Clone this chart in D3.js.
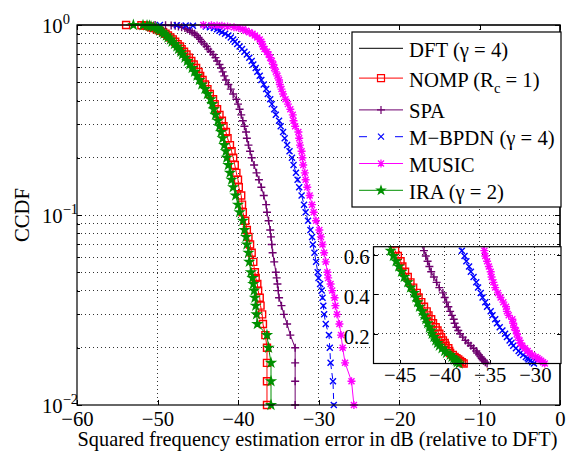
<!DOCTYPE html>
<html>
<head>
<meta charset="utf-8">
<script src="https://cdn.jsdelivr.net/npm/d3@7"></script>
<style>
  body { margin: 0; background: #fff; }
  svg { display: block; }
  svg text { font-family: "Liberation Serif", "Tinos", "Times New Roman", "DejaVu Serif", serif; }
</style>
</head>
<body>
<svg id="chart" width="567" height="453"></svg>
<script>
// Monte Carlo trials; each CCDF point is (error, count/trials)
const trials = 300
const counts = [300, 299, 298, 297, 295, 292, 289, 285, 280, 275, 270, 264, 258, 252, 245, 238, 231, 224, 217, 210,
  202, 194, 186, 178, 170, 162, 154, 146, 138, 130, 122, 115, 108, 101, 94, 88, 82, 76, 70, 65,
  60, 55, 50, 46, 42, 38, 34, 31, 28, 25, 23, 21, 19, 17, 15, 14, 13, 12, 11, 10,
  9, 8, 7, 6, 5, 4, 3]

// squared frequency error in dB (relative to DFT), one value per count level
const nompErr = [-53.9, -52.0, -51.6, -51.3, -51.0, -50.8, -50.5, -50.1, -49.7, -49.3, -49.0, -48.7, -48.4, -48.1, -47.8, -47.5, -47.2, -47.0, -46.7, -46.4,
  -46.1, -45.8, -45.5, -45.2, -44.9, -44.7, -44.4, -44.1, -43.8, -43.5, -43.1, -42.9, -42.6, -42.3, -42.0, -41.8, -41.5, -41.3, -41.0, -40.8,
  -40.6, -40.4, -40.2, -40.0, -39.9, -39.6, -39.5, -39.4, -39.1, -38.9, -38.7, -38.5, -38.3, -38.1, -37.9, -37.8, -37.6, -37.5, -37.3, -37.2,
  -37.0, -36.9, -36.6, -36.4, -36.4, -36.4, -36.4]
const spaErr = [-50.3, -49.0, -48.3, -47.8, -47.4, -47.0, -46.6, -46.3, -46.0, -45.7, -45.4, -45.1, -44.9, -44.7, -44.5, -44.2, -43.9, -43.7, -43.4, -43.1,
  -42.8, -42.6, -42.3, -42.1, -41.9, -41.7, -41.5, -41.2, -40.9, -40.6, -40.2, -40.0, -39.8, -39.6, -39.4, -39.2, -39.0, -38.9, -38.7, -38.5,
  -38.3, -38.0, -37.7, -37.4, -37.1, -36.8, -36.5, -36.4, -36.2, -36.0, -35.9, -35.8, -35.7, -35.5, -35.3, -35.2, -35.1, -35.0, -34.9, -34.6,
  -34.3, -33.9, -33.5, -32.9, -32.9, -32.9, -32.9]
const bpdnErr = [-49.7, -47.6, -46.5, -45.6, -44.0, -43.5, -43.0, -42.6, -42.3, -42.0, -41.6, -41.2, -40.9, -40.6, -40.4, -40.1, -39.8, -39.5, -39.2, -38.9,
  -38.6, -38.3, -38.1, -37.8, -37.6, -37.3, -37.1, -36.8, -36.5, -36.3, -36.0, -35.8, -35.5, -35.3, -34.9, -34.7, -34.4, -34.2, -33.9, -33.6,
  -33.3, -33.1, -32.8, -32.6, -32.4, -32.1, -31.8, -31.6, -31.3, -31.0, -30.8, -30.7, -30.5, -30.3, -30.1, -30.0, -29.8, -29.6, -29.5, -29.4,
  -29.3, -29.1, -28.7, -28.6, -28.5, -28.2, -28.1]
const musicErr = [-44.3, -43.3, -42.6, -42.0, -41.3, -40.5, -39.9, -39.4, -39.0, -38.6, -38.2, -37.9, -37.6, -37.3, -37.1, -37.0, -36.9, -36.7, -36.4, -36.2,
  -36.0, -35.8, -35.6, -35.5, -35.3, -35.1, -34.9, -34.8, -34.6, -34.4, -34.1, -33.8, -33.5, -33.2, -33.1, -32.9, -32.5, -32.4, -32.3, -32.1,
  -32.0, -31.9, -31.7, -31.6, -31.4, -31.1, -30.8, -30.6, -30.3, -29.9, -29.7, -29.5, -29.3, -29.1, -28.9, -28.8, -28.5, -28.3, -28.0, -27.9,
  -27.7, -27.4, -27.2, -27.0, -26.7, -25.9, -25.6]
const iraErr = [-53.0, -51.8, -51.3, -51.0, -50.8, -50.5, -50.1, -49.9, -49.7, -49.4, -49.2, -48.9, -48.7, -48.4, -48.2, -47.9, -47.6, -47.4, -47.1, -46.9,
  -46.6, -46.3, -46.0, -45.7, -45.4, -45.1, -44.8, -44.5, -44.1, -43.8, -43.4, -43.2, -43.0, -42.8, -42.5, -42.3, -42.1, -41.9, -41.7, -41.5,
  -41.4, -41.2, -41.0, -40.8, -40.6, -40.3, -40.0, -39.8, -39.4, -39.2, -39.0, -38.9, -38.7, -38.6, -38.4, -38.2, -38.1, -38.0, -37.9, -37.8,
  -37.7, -37.6, -36.4, -36.2, -35.9, -35.9, -35.9]
// DFT is the reference, so its error is 0 dB in every trial
const dftErr = [-60, 0, 0]
const dftCcdf = [1, 1, 0.01]

const xTicks = [-60, -50, -40, -30, -20, -10, 0]
const yDecades = [0.01, 0.1, 1]
const insetXTicks = [-45, -40, -35, -30]
const insetYTicks = [0.2, 0.4, 0.6]
const legendLabels = ["DFT (γ = 4)", "NOMP (R", "SPA", "M\u2212BPDN (γ = 4)", "MUSIC", "IRA (γ = 2)"]

const fmtMinus = (d) => String(d).replace("-", "\u2212")
const SERIF = "'Liberation Serif', Tinos, 'Times New Roman', 'DejaVu Serif', serif"

const markerPath = {
  none: null,
  square: "M-3.5,-3.5h7v7h-7z",
  plus: "M-4,0H4M0,-4V4",
  cross: "M-3,-3L3,3M-3,3L3,-3",
  asterisk: "M-4,0H4M0,-4V4M-3,-3L3,3M-3,3L3,-3",
  star: d3.symbol(d3.symbolStar, 20)(),
}

const series = [
  {key: "nomp", values: nompErr, color: "#ff0000", marker: "square", dash: null},
  {key: "spa", values: spaErr, color: "#6e006e", marker: "plus", dash: null},
  {key: "bpdn", values: bpdnErr, color: "#0000ff", marker: "cross", dash: "6,4"},
  {key: "music", values: musicErr, color: "#ff00ff", marker: "asterisk", dash: null},
  {key: "ira", values: iraErr, color: "#009000", marker: "star", dash: null},
]
series.forEach((s) => {
  s.points = counts.map((k, i) => ({e: s.values[i], p: k / trials}))
})
const dftPoints = dftErr.map((e, i) => ({e, p: dftCcdf[i]}))

const svg = d3.select("#chart").attr("font-family", SERIF)
const FONT = 20.7

// main axes
const L = 77, R = 560, T = 25, B = 405
const x = d3.scaleLinear().domain([-60, 0]).range([L, R])
const y = d3.scaleLog().domain([0.01, 1]).range([B, T])

const yMinor = []
for (const dec of [0.01, 0.1]) for (let k = 2; k <= 9; k++) yMinor.push(dec * k)

const grid = svg.append("g")
  .attr("stroke", "#333").attr("stroke-width", 1).attr("stroke-dasharray", "1,3")
  .attr("shape-rendering", "crispEdges")
grid.selectAll("line.gx").data(xTicks.slice(1, -1)).join("line")
  .attr("x1", (d) => x(d)).attr("x2", (d) => x(d)).attr("y1", T).attr("y2", B)
grid.selectAll("line.gy").data(yMinor.concat([0.1])).join("line")
  .attr("x1", L).attr("x2", R).attr("y1", (d) => y(d)).attr("y2", (d) => y(d))

const styleAxis = (g) => {
  g.select(".domain").remove()
  g.attr("font-size", FONT).attr("font-family", SERIF)
  g.selectAll("line").attr("stroke-width", 1).attr("shape-rendering", "crispEdges")
}

svg.append("g").attr("transform", `translate(0,${B})`)
  .call(d3.axisBottom(x).tickValues(xTicks).tickSize(-5).tickPadding(6.5).tickFormat(fmtMinus))
  .call(styleAxis)
svg.append("g").attr("transform", `translate(0,${T})`)
  .call(d3.axisTop(x).tickValues(xTicks).tickSize(-5).tickFormat(""))
  .call(styleAxis)
for (const [axis, tx] of [[d3.axisLeft, L], [d3.axisRight, R]]) {
  svg.append("g").attr("transform", `translate(${tx},0)`)
    .call(axis(y).tickValues(yDecades).tickSize(-5).tickFormat(""))
    .call(styleAxis)
  svg.append("g").attr("transform", `translate(${tx},0)`)
    .call(axis(y).tickValues(yMinor).tickSize(-3).tickFormat(""))
    .call(styleAxis)
}

// 10^k labels
const yLab = svg.append("g").attr("font-size", FONT)
yDecades.forEach((d) => {
  const t = yLab.append("text").attr("x", 42).attr("y", y(d) + 7.5)
  t.append("tspan").text("10")
  t.append("tspan").attr("font-size", 14.5).attr("dy", -9).text(fmtMinus(Math.round(Math.log10(d))))
})

svg.append("text").attr("font-size", FONT).attr("text-anchor", "middle")
  .attr("transform", `translate(29,${(T + B) / 2}) rotate(-90)`).text("CCDF")
svg.append("text").attr("font-size", 20.3).attr("text-anchor", "middle")
  .attr("x", (L + R) / 2 - 1).attr("y", 446)
  .text("Squared frequency estimation error in dB (relative to DFT)")

// curves
const drawSeries = (g, s, xs, ys, keep) => {
  const line = d3.line().x((d) => xs(d.e)).y((d) => ys(d.p))
  g.append("path").datum(s.points)
    .attr("d", line).attr("fill", "none").attr("stroke", s.color).attr("stroke-width", 1)
    .attr("stroke-dasharray", s.dash).attr("clip-path", g.attr("data-clip"))
  const pts = s.points.filter(keep)
  const mk = g.append("g")
  mk.selectAll("path").data(pts).join("path")
    .attr("transform", (d) => `translate(${xs(d.e)},${ys(d.p)})`)
    .attr("d", markerPath[s.marker])
    .attr("fill", s.marker === "star" ? s.color : "none")
    .attr("stroke", s.color).attr("stroke-width", 1.4)
}

const defs = svg.append("defs")
defs.append("clipPath").attr("id", "clipMain").append("rect")
  .attr("x", L).attr("y", T - 1).attr("width", R - L).attr("height", B - T + 2)

const plot = svg.append("g").attr("data-clip", "url(#clipMain)")
plot.append("path").datum(dftPoints)
  .attr("d", d3.line().x((d) => x(d.e)).y((d) => y(d.p)))
  .attr("fill", "none").attr("stroke", "#000").attr("stroke-width", 1.2)
series.forEach((s) => drawSeries(plot, s, x, y, () => true))

// box
svg.append("rect").attr("x", L).attr("y", T).attr("width", R - L).attr("height", B - T)
  .attr("fill", "none").attr("stroke", "#000").attr("stroke-width", 1.2)

// legend
const lg = svg.append("g")
lg.append("rect").attr("x", 352).attr("y", 32).attr("width", 209).attr("height", 175)
  .attr("fill", "#fff").attr("stroke", "#000").attr("stroke-width", 1.2)
const legendItems = [{color: "#000", marker: "none", dash: null}].concat(series)
const rowExtra = [0, 3, 8, 8, 8, 8]
legendItems.forEach((s, i) => {
  const ry = 48.3 + i * 26.8 + rowExtra[i]
  lg.append("line").attr("x1", 359).attr("x2", 403).attr("y1", ry).attr("y2", ry)
    .attr("stroke", s.color).attr("stroke-width", 1).attr("stroke-dasharray", s.dash ? "8,28" : null)
  if (markerPath[s.marker]) {
    lg.append("path").attr("transform", `translate(381,${ry})`).attr("d", markerPath[s.marker])
      .attr("fill", s.marker === "star" ? s.color : "none").attr("stroke", s.color).attr("stroke-width", 1.2)
  }
  const t = lg.append("text").attr("x", 409).attr("y", ry + 8.5).attr("font-size", FONT)
  t.append("tspan").text(legendLabels[i])
  if (i === 1) {
    t.append("tspan").attr("font-size", 14.5).attr("dy", 6).text("c")
    t.append("tspan").attr("dy", -6).text(" = 1)")
  }
})

// inset: same CCDF on a linear scale
const iL = 373.5, iR = 561, iT = 246.7, iB = 363.5
const xi = d3.scaleLinear().domain([-47.9, -27.1]).range([iL, iR])
const yi = d3.scaleLinear().domain([0.05, 0.64]).range([iB, iT])
const inset = svg.append("g")
inset.append("rect").attr("x", iL).attr("y", iT).attr("width", iR - iL).attr("height", iB - iT).attr("fill", "#fff")
const igrid = inset.append("g")
  .attr("stroke", "#333").attr("stroke-width", 1).attr("stroke-dasharray", "1,3")
  .attr("shape-rendering", "crispEdges")
igrid.selectAll("line.gx").data(insetXTicks).join("line")
  .attr("x1", (d) => xi(d)).attr("x2", (d) => xi(d)).attr("y1", iT).attr("y2", iB)
igrid.selectAll("line.gy").data(insetYTicks).join("line")
  .attr("x1", iL).attr("x2", iR).attr("y1", (d) => yi(d)).attr("y2", (d) => yi(d))

inset.append("g").attr("transform", `translate(0,${iB})`)
  .call(d3.axisBottom(xi).tickValues(insetXTicks).tickSize(-4).tickPadding(4).tickFormat(fmtMinus))
  .call(styleAxis)
inset.append("g").attr("transform", `translate(${iL},0)`)
  .call(d3.axisLeft(yi).tickValues(insetYTicks).tickSize(-4).tickPadding(4).tickFormat(d3.format(".1f")))
  .call(styleAxis)
  .call((g) => g.selectAll("text").attr("dy", "0.45em"))
inset.append("g").attr("transform", `translate(${iR},0)`)
  .call(d3.axisRight(yi).tickValues(insetYTicks).tickSize(-4).tickFormat(""))
  .call(styleAxis)

defs.append("clipPath").attr("id", "clipInset").append("rect")
  .attr("x", iL).attr("y", iT).attr("width", iR - iL).attr("height", iB - iT)
const iplot = inset.append("g").attr("data-clip", "url(#clipInset)")
const inInset = (d) => d.p >= 0.0499 && d.p <= 0.64 && d.e >= -47.9 && d.e <= -27.1
series.forEach((s) => drawSeries(iplot, s, xi, yi, inInset))

inset.append("rect").attr("x", iL).attr("y", iT).attr("width", iR - iL).attr("height", iB - iT)
  .attr("fill", "none").attr("stroke", "#000").attr("stroke-width", 1.2)
</script>
</body>
</html>
